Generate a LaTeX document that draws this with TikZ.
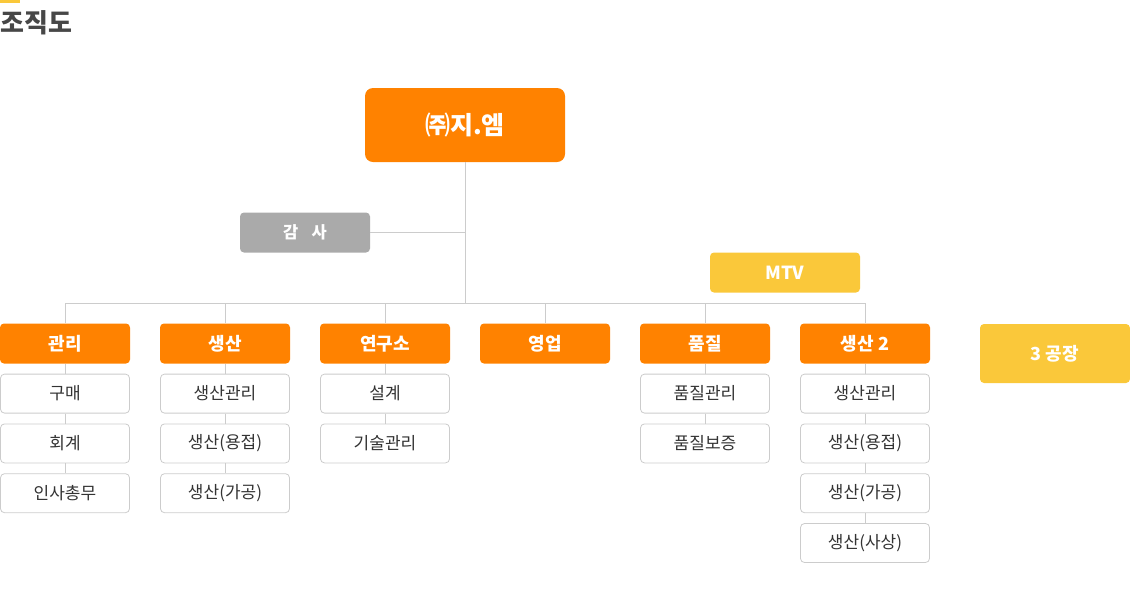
\documentclass[tikz,border=0pt]{standalone}
\usepackage{fontspec}
\setmainfont{Noto Sans CJK KR}
\usepackage{xcolor}
\usetikzlibrary{positioning}

\definecolor{orgorange}{HTML}{FF8200}
\definecolor{orgyellow}{HTML}{FAC83A}
\definecolor{orggray}{HTML}{AAAAAA}
\definecolor{orgline}{HTML}{CCCCCC}
\definecolor{orgtext}{HTML}{333333}

\begin{document}
\begin{tikzpicture}[
  x=1pt, y=-1pt,
  node distance = 10pt,
  head/.style = {rectangle, rounded corners=8pt, fill=orgorange, text=white,
                 font=\fontsize{25}{29}\selectfont\bfseries, minimum width=200pt, minimum height=74pt},
  dept/.style = {rectangle, rounded corners=4pt, fill=orgorange, text=white,
                 font=\fontsize{18}{22}\selectfont\bfseries, minimum width=130pt, minimum height=40pt},
  side/.style = {dept, fill=orggray, font=\fontsize{16.5}{20}\selectfont\bfseries},
  extra/.style = {dept, fill=orgyellow, minimum width=150pt},
  team/.style = {rectangle, rounded corners=4pt, draw=orgline, line width=0.8pt, fill=white, text=orgtext,
                 font=\fontsize{17}{21}\selectfont, minimum width=129pt, minimum height=39pt},
  conn/.style = {draw=orgline, line width=1pt}
]
  \useasboundingbox (0,0) rectangle (1130,590);

  % title
  \fill[orgyellow] (0,0) rectangle (20,3);
  \node[anchor=west, inner sep=0pt, text=orgtext!90,
        font=\fontsize{26}{30}\selectfont\bfseries] (title) at (0,23) {조직도};

  % top
  \node[head] (ceo) at (465,125) {㈜지.엠};
  \node[side] (audit) at (305,232.5) {감\hspace{0.8em}사};
  \node[extra] (mtv) at (785,272.5) {MTV};
  \coordinate (bus) at (465,303);

  % departments
  \node[dept] (admin) at (65,343.5)  {관리};
  \node[dept] (prod)  at (225,343.5) {생산};
  \node[dept] (lab)   at (385,343.5) {연구소};
  \node[dept] (sales) at (545,343.5) {영업};
  \node[dept] (qual)  at (705,343.5) {품질};
  \node[dept] (prodb) at (865,343.5) {생산 2};
  \node[extra, minimum height=59pt] (plant) at (1055,353.5) {3 공장};

  % teams
  \node[team, below=of admin] (buy)  {구매};
  \node[team, below=of buy]   (acc)  {회계};
  \node[team, below=of acc]   (hr)   {인사총무};

  \node[team, below=of prod]  (pman) {생산관리};
  \node[team, below=of pman]  (pweld){생산(용접)};
  \node[team, below=of pweld] (pwork){생산(가공)};

  \node[team, below=of lab]   (design) {설계};
  \node[team, below=of design](tech)   {기술관리};

  \node[team, below=of qual]  (qman) {품질관리};
  \node[team, below=of qman]  (qassure) {품질보증};

  \node[team, below=of prodb] (bman)  {생산관리};
  \node[team, below=of bman]  (bweld) {생산(용접)};
  \node[team, below=of bweld] (bwork) {생산(가공)};
  \node[team, below=of bwork] (bpaint){생산(사상)};

  % connectors
  \draw[conn] (ceo.south) -- (ceo.south |- bus);
  \draw[conn] (audit.east) -- (audit.east -| ceo.south);
  \draw[conn] (admin.north |- bus) -- (prodb.north |- bus);
  \foreach \d in {admin, prod, lab, sales, qual, prodb}
    \draw[conn] (\d.north |- bus) -- (\d.north);

  \draw[conn] (admin.south) -- (buy.north);
  \draw[conn] (buy.south) -- (acc.north);
  \draw[conn] (acc.south) -- (hr.north);
  \draw[conn] (prod.south) -- (pman.north);
  \draw[conn] (pman.south) -- (pweld.north);
  \draw[conn] (pweld.south) -- (pwork.north);
  \draw[conn] (lab.south) -- (design.north);
  \draw[conn] (design.south) -- (tech.north);
  \draw[conn] (qual.south) -- (qman.north);
  \draw[conn] (qman.south) -- (qassure.north);
  \draw[conn] (prodb.south) -- (bman.north);
  \draw[conn] (bman.south) -- (bweld.north);
  \draw[conn] (bweld.south) -- (bwork.north);
  \draw[conn] (bwork.south) -- (bpaint.north);
\end{tikzpicture}
\end{document}
